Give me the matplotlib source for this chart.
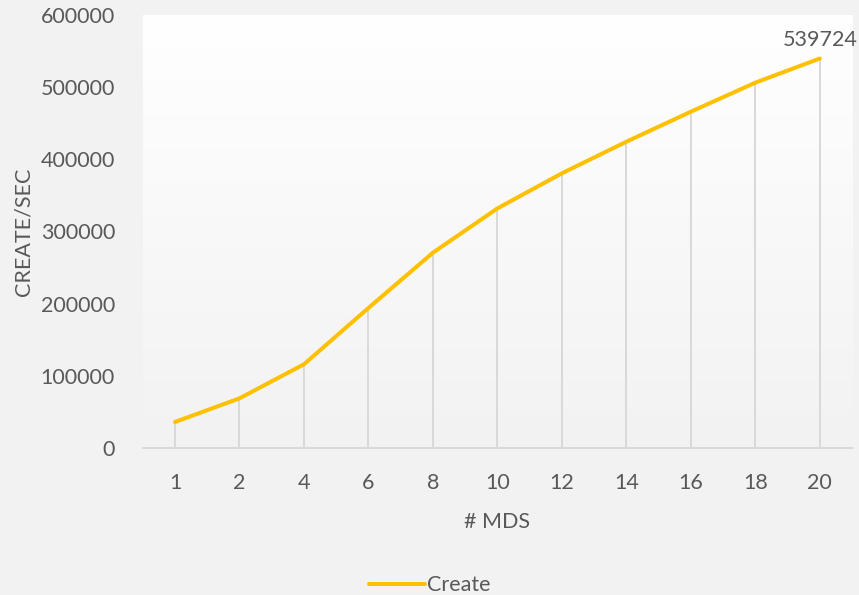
import numpy as np
import matplotlib.pyplot as plt

mds = ['1', '2', '4', '6', '8', '10', '12', '14', '16', '18', '20']
creates = [36000, 68800, 116000, 194000, 270600, 332000, 380600, 424400, 466000, 506200, 539724]
y_ticks = [0, 100000, 200000, 300000, 400000, 500000, 600000]

plt.rcParams['font.family'] = ['Lato', 'DejaVu Sans']
txt = '#595959'
grid = '#d9d9d9'
fs = 15.5

fig = plt.figure(figsize=(8.59, 5.95), dpi=100, facecolor='#f2f2f2')
ax = fig.add_axes([0.1662, 0.2471, 0.8257, 0.7277])
ax.set_facecolor('#f2f2f2')

# white-to-grey gradient in the plot area
grad = np.linspace(1.0, 0.949, 256).reshape(-1, 1)
ax.imshow(np.dstack([grad, grad, grad]), extent=[0, 1, 0, 1], transform=ax.transAxes,
          aspect='auto', zorder=0)

x = np.arange(len(mds))
ax.vlines(x, 0, creates, color=grid, lw=1.4, zorder=1)
ax.plot(x, creates, color='#ffc000', lw=2.9, solid_capstyle='round', label='Create', zorder=3)
ax.text(x[-1], creates[-1] + 12000, str(creates[-1]), ha='center', va='bottom',
        fontsize=fs, color=txt)

ax.set_xlim(-0.5, len(mds) - 0.5)
ax.set_ylim(0, 600000)
ax.set_xticks(x)
ax.set_xticklabels(mds)
ax.set_yticks(y_ticks)
ax.set_yticklabels([str(v) for v in y_ticks])
ax.tick_params(length=0, labelsize=fs, colors=txt)
ax.tick_params(axis='x', pad=18)
ax.tick_params(axis='y', pad=20)
for s in ['top', 'right', 'left']:
    ax.spines[s].set_visible(False)
ax.spines['bottom'].set_color(grid)
ax.spines['bottom'].set_linewidth(1.4)
ax.spines['bottom'].set_zorder(2)

ax.set_xlabel('# MDS', fontsize=fs, color=txt, labelpad=14)
ax.set_ylabel('CREATE/SEC', fontsize=fs, color=txt, labelpad=5)

fig.legend(loc='lower center', bbox_to_anchor=(0.5, -0.033), frameon=False, fontsize=fs,
           labelcolor=txt, handlelength=2.6, handletextpad=0.1)

fig.savefig('out.png', dpi=100, facecolor=fig.get_facecolor())
